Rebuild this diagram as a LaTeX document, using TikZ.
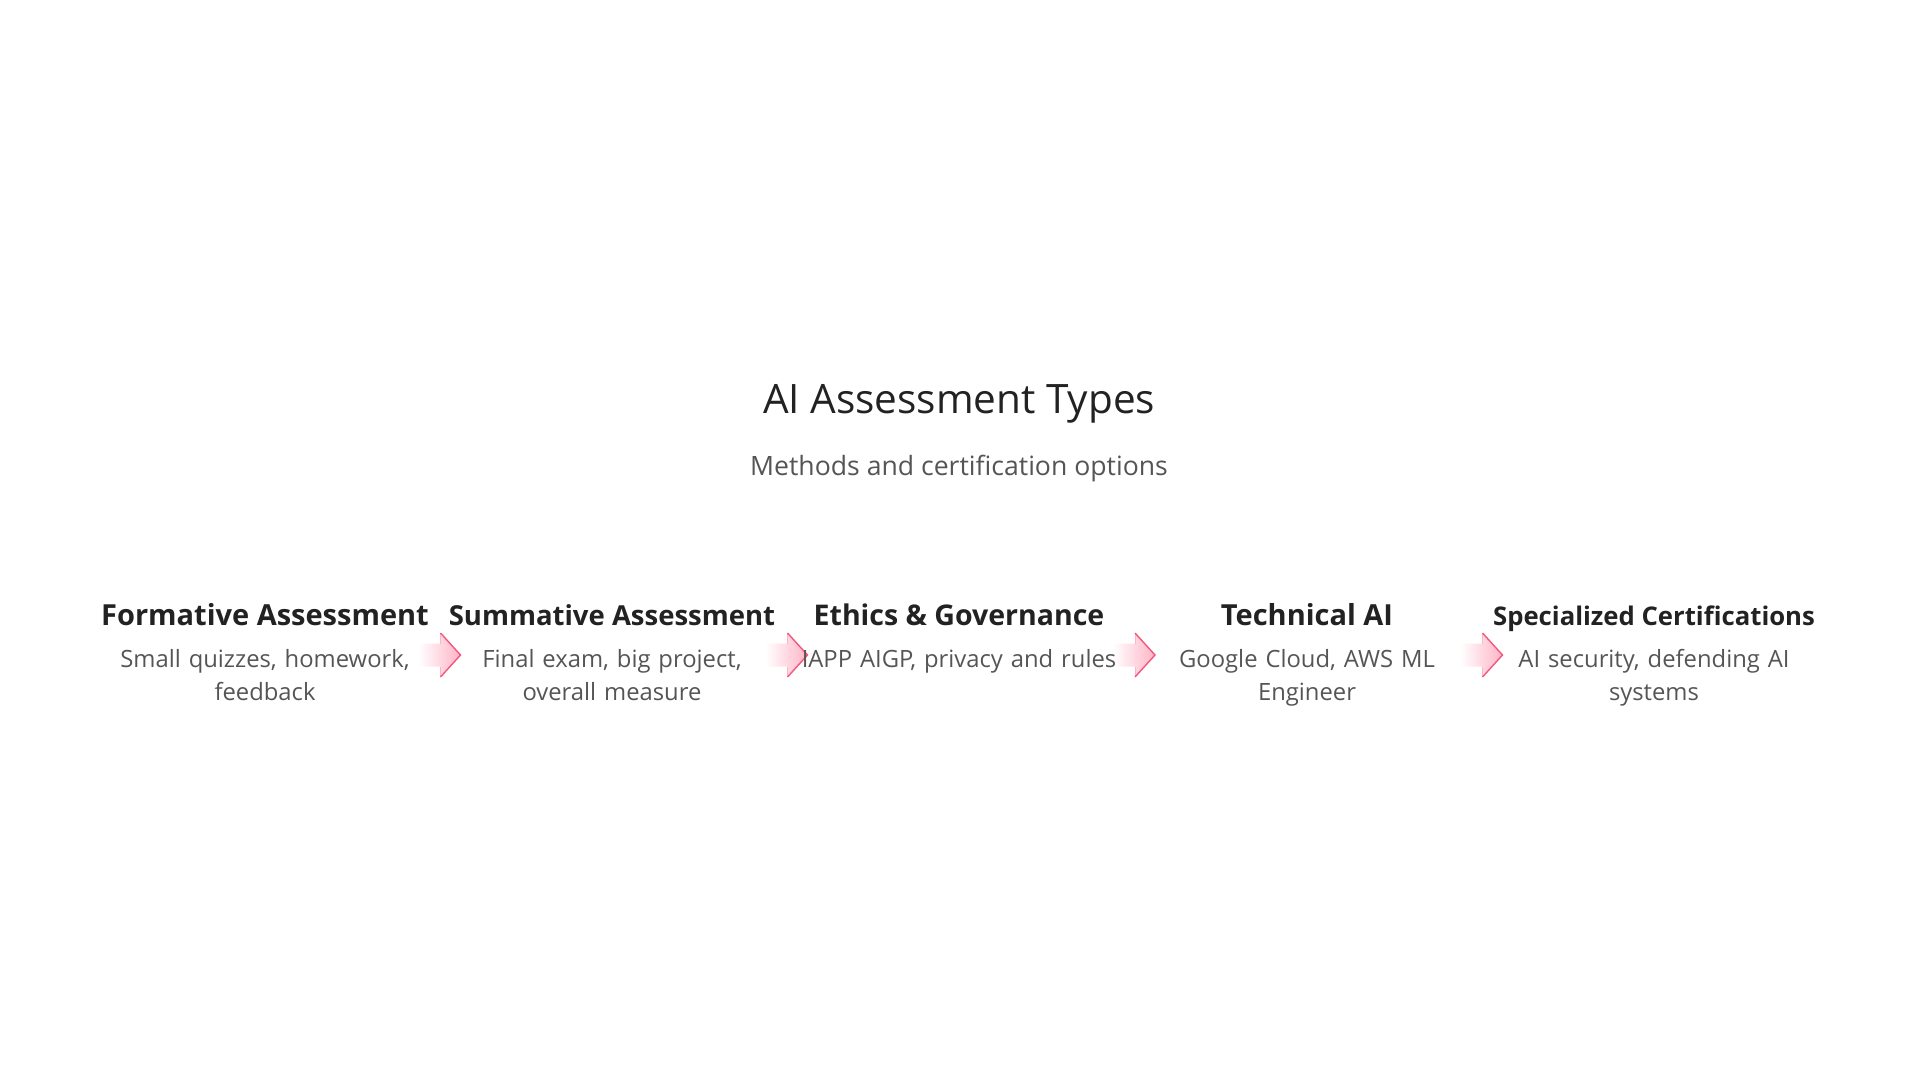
\documentclass[tikz,border=0pt]{standalone}
\usepackage{fontspec}
\setmainfont{Open Sans}
\usetikzlibrary{calc,backgrounds}
\definecolor{darktext}{HTML}{222222}
\definecolor{greytext}{HTML}{555555}
\definecolor{arrowpink}{HTML}{F2587F}
\definecolor{arrowfill}{HTML}{FFB3C5}
\begin{document}
\begin{tikzpicture}[x=1pt, y=-1pt,
    heading/.style={anchor=base, inner sep=0pt, text=darktext},
    desc/.style={anchor=base, inner sep=0pt, text width=320pt, align=center, text=greytext, font=\fontsize{23.8}{33}\selectfont}]
      \useasboundingbox (0,0) rectangle (1920,1080);
      \node[anchor=base, inner sep=0pt, text=darktext, font=\fontsize{40.5}{46}\selectfont] (title) at (959,413) {AI Assessment Types};
      \node[anchor=base, inner sep=0pt, text=greytext, font=\fontsize{26.6}{30}\selectfont] (subtitle) at (959,475) {Methods and certification options};
      \foreach \n/\x/\s/\h/\d in {1/265/29/Formative Assessment/{Small quizzes, homework,\\feedback},
          2/612/27.5/Summative Assessment/{Final exam, big project,\\overall measure},
          3/959/28.5/Ethics \& Governance/{IAPP AIGP, privacy and rules},
          4/1307/29/Technical AI/{Google Cloud, AWS ML\\Engineer},
          5/1654/25.7/Specialized Certifications/{AI security, defending AI\\systems}}
      {
      \node[heading, font=\bfseries\fontsize{\s}{\s}\selectfont] (h\n) at (\x,625) {\h};
      \node[desc] (d\n) at (\x,667) {\d};
      }
      \begin{scope}[on background layer]
      \foreach \a/\b in {1/2, 2/3, 3/4, 4/5}
      {
      \coordinate (m\a) at ($(h\a.base)!0.5!(h\b.base) + (0,30)$);
      \shade[left color=white, right color=arrowfill, shift={(m\a)}] (-20,-11.5) -- (2,-11.5) -- (2,-22) -- (22,0) -- (2,22) -- (2,11.5) -- (-20,11.5) -- cycle ;
      \draw[arrowfill, line width=0.8pt, shift={(m\a)}] (2,-11.5) -- (2,-22) (2,22) -- (2,11.5) ;
      \draw[arrowpink, line width=1.4pt, line join=miter, shift={(m\a)}] (2,-22) -- (22,0) -- (2,22) ;
      }
      \end{scope}
\end{tikzpicture}
\end{document}
